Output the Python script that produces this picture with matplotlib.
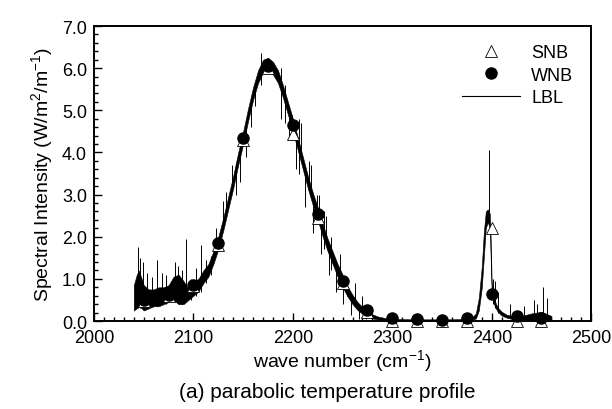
import matplotlib
matplotlib.use("Agg")
import matplotlib.pyplot as plt
from matplotlib.ticker import MultipleLocator
from matplotlib.lines import Line2D

plt.rcParams['font.family'] = ['Liberation Sans', 'DejaVu Sans']
plt.rcParams['mathtext.fontset'] = 'custom'
plt.rcParams['mathtext.rm'] = 'Liberation Sans'

# ---- data ----
# LBL envelope (lower/upper edge of the dense line-by-line trace)
lbl_wn = [2040, 2043, 2045, 2048, 2050, 2055, 2060, 2065, 2070, 2075, 2080, 2085,
          2090, 2095, 2100, 2105, 2110, 2115, 2120, 2125, 2130, 2135, 2140, 2145,
          2150, 2155, 2160, 2165, 2170, 2175, 2180, 2185, 2190, 2195, 2200, 2205,
          2210, 2215, 2220, 2225, 2230, 2235, 2240, 2245, 2250, 2255, 2260, 2265,
          2270, 2275, 2280, 2285, 2290, 2295, 2300, 2320, 2340, 2360, 2375, 2380,
          2384, 2387, 2390, 2392, 2394, 2396, 2398, 2399, 2400, 2403, 2406, 2410,
          2415, 2420, 2430, 2440, 2450, 2460]
lbl_lo = [0.25, 0.30, 0.35, 0.30, 0.25, 0.30, 0.35, 0.35, 0.40, 0.45, 0.50, 0.40,
          0.40, 0.50, 0.60, 0.70, 0.90, 1.05, 1.35, 1.70, 2.15, 2.65, 3.15, 3.70,
          4.20, 4.75, 5.25, 5.65, 5.90, 5.95, 5.85, 5.65, 5.30, 4.90, 4.50, 4.05,
          3.60, 3.15, 2.75, 2.40, 2.00, 1.65, 1.35, 1.05, 0.80, 0.58, 0.40, 0.26,
          0.17, 0.10, 0.06, 0.04, 0.03, 0.02, 0.01, 0.01, 0.01, 0.01, 0.01, 0.03,
          0.06, 0.25, 0.80, 1.50, 2.20, 2.35, 2.20, 1.40, 0.60, 0.35, 0.22, 0.13,
          0.08, 0.05, 0.03, 0.02, 0.02, 0.01]
lbl_hi = [0.85, 1.10, 1.20, 1.00, 0.85, 0.75, 0.75, 0.80, 0.80, 0.85, 1.05, 1.10,
          0.95, 0.75, 0.95, 1.00, 1.20, 1.35, 1.65, 2.00, 2.45, 2.95, 3.45, 4.00,
          4.50, 5.05, 5.55, 5.95, 6.20, 6.25, 6.15, 5.95, 5.60, 5.20, 4.80, 4.35,
          3.90, 3.45, 3.05, 2.70, 2.30, 1.95, 1.65, 1.35, 1.10, 0.82, 0.62, 0.45,
          0.33, 0.24, 0.16, 0.11, 0.08, 0.06, 0.05, 0.04, 0.04, 0.04, 0.05, 0.08,
          0.18, 0.55, 1.30, 2.10, 2.60, 2.65, 2.55, 1.90, 0.85, 0.48, 0.32, 0.22,
          0.15, 0.12, 0.12, 0.18, 0.22, 0.12]
# isolated spikes of the LBL trace
spike_wn = [2044, 2046, 2049, 2053, 2058, 2063, 2068, 2072, 2081, 2084, 2088,
            2093, 2098, 2103, 2108, 2113, 2118, 2123, 2130, 2133, 2139, 2143,
            2147, 2153, 2158, 2162, 2168, 2188, 2192, 2196, 2199, 2203, 2206,
            2208, 2212, 2216, 2218, 2220, 2224, 2226, 2228, 2231, 2233, 2236,
            2238, 2243, 2247, 2250, 2254, 2258, 2262, 2266, 2270, 2274, 2278,
            2397, 2401, 2403, 2406, 2418, 2432, 2442, 2446, 2452, 2456]
spike_lo = [0.30, 0.30, 0.30, 0.30, 0.35, 0.35, 0.40, 0.40, 0.45, 0.45, 0.40,
            0.45, 0.50, 0.60, 0.70, 0.90, 1.10, 1.70, 2.20, 2.50, 3.20, 3.00,
            3.30, 3.90, 4.60, 5.10, 5.60, 4.80, 4.70, 4.30, 4.30, 3.60, 3.50,
            4.00, 2.70, 3.30, 3.10, 2.10, 2.50, 2.40, 1.60, 1.70, 1.90, 1.10,
            1.20, 0.70, 1.10, 0.40, 0.60, 0.15, 0.45, 0.05, 0.25, 0.05, 0.10,
            2.40, 0.40, 0.30, 0.20, 0.08, 0.05, 0.05, 0.05, 0.05, 0.05]
spike_hi = [1.75, 1.50, 1.40, 1.15, 1.05, 1.45, 1.15, 1.10, 1.40, 1.30, 1.20,
            1.95, 1.00, 1.25, 1.80, 1.45, 1.55, 2.20, 2.85, 3.05, 3.70, 3.75,
            4.30, 4.60, 5.20, 5.60, 6.35, 6.00, 5.60, 5.10, 4.90, 4.40, 4.80,
            4.70, 3.60, 3.80, 3.70, 2.90, 3.00, 3.00, 2.30, 2.60, 2.50, 1.70,
            2.00, 1.30, 1.60, 1.00, 1.00, 0.60, 0.90, 0.35, 0.60, 0.20, 0.30,
            4.05, 1.00, 0.95, 0.70, 0.40, 0.35, 0.50, 0.40, 0.80, 0.55]

# narrow-band model results
nb_wn = [2050, 2075, 2100, 2125, 2150, 2175, 2200, 2225, 2250, 2275, 2300,
         2325, 2350, 2375, 2400, 2425, 2450]
wnb = [0.50, 0.62, 0.85, 1.85, 4.35, 6.05, 4.65, 2.55, 0.95, 0.25, 0.08,
       0.04, 0.03, 0.06, 0.65, 0.12, 0.08]
snb = [0.48, 0.60, 0.82, 1.80, 4.30, 6.00, 4.45, 2.45, 0.90, 0.22, 0.00,
       0.00, 0.00, 0.00, 2.20, 0.00, 0.00]

x_ticks = [2000, 2100, 2200, 2300, 2400, 2500]
y_ticks = [0.0, 1.0, 2.0, 3.0, 4.0, 5.0, 6.0, 7.0]

# ---- figure ----
fig = plt.figure(figsize=(6.12, 4.10), dpi=100)
ax = fig.add_axes([0.1536, 0.2146, 0.8124, 0.7194])

ax.fill_between(lbl_wn, lbl_lo, lbl_hi, color='black', linewidth=0.4, zorder=2)
ax.vlines(spike_wn, spike_lo, spike_hi, color='black', linewidth=0.7, zorder=2)

ax.plot(nb_wn, snb, linestyle='none', marker='^', markersize=9,
        markerfacecolor='white', markeredgecolor='black', markeredgewidth=0.6,
        zorder=3, clip_on=False)
ax.plot(nb_wn, wnb, linestyle='none', marker='o', markersize=8,
        color='black', zorder=4, clip_on=False)

ax.set_xlim(2000, 2500)
ax.set_ylim(0, 7)
ax.set_xticks(x_ticks)
ax.set_yticks(y_ticks)
ax.set_xticklabels([str(v) for v in x_ticks])
ax.set_yticklabels([f"{v:.1f}" for v in y_ticks])
ax.xaxis.set_minor_locator(MultipleLocator(10))
ax.yaxis.set_minor_locator(MultipleLocator(0.2))
ax.tick_params(which='both', direction='in', top=False, right=False,
               labelsize=13, width=1.0)
ax.tick_params(axis='x', which='major', length=6, pad=6)
ax.tick_params(axis='y', which='major', length=6, pad=5)
ax.tick_params(which='minor', length=3)
for s in ax.spines.values():
    s.set_linewidth(1.4)

ax.set_ylabel(r'Spectral Intensity (W/m$^{\mathregular{2}}$/m$^{\mathregular{-1}}$)',
              fontsize=14, labelpad=4)
ax.set_xlabel(r'wave number (cm$^{\mathregular{-1}}$)', fontsize=14, labelpad=1)

handles = [
    Line2D([], [], linestyle='none', marker='^', markersize=9,
           markerfacecolor='white', markeredgecolor='black', markeredgewidth=0.6),
    Line2D([], [], linestyle='none', marker='o', markersize=8, color='black'),
    Line2D([], [], color='black', linewidth=0.8),
]
ax.legend(handles, ['SNB', 'WNB', 'LBL'], loc='upper right', frameon=False,
          fontsize=13, handlelength=3.2, handletextpad=0.6, labelspacing=0.3,
          borderaxespad=0.6, bbox_to_anchor=(1.0, 1.0))

fig.text(0.535, 0.042, '(a) parabolic temperature profile', ha='center',
         va='center', fontsize=15)

fig.savefig('out.png', dpi=100)
